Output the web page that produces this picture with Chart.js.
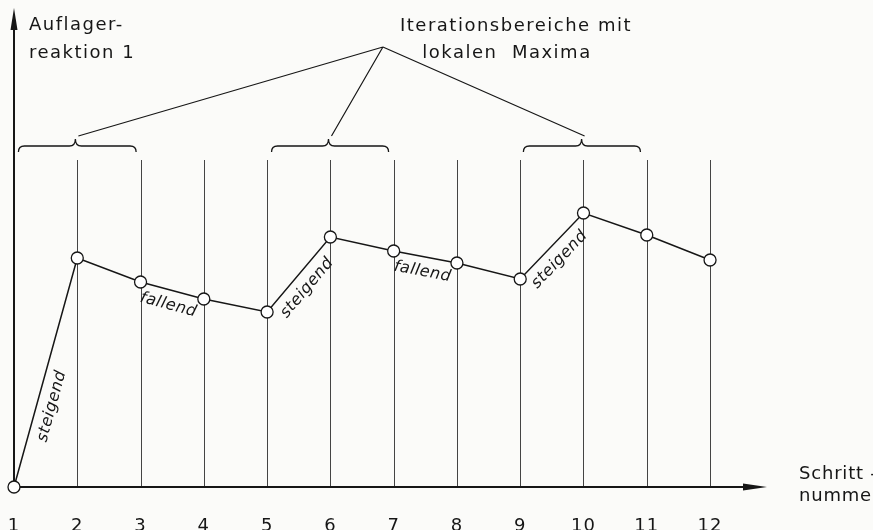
<!DOCTYPE html>
<html>
<head>
<meta charset="utf-8">
<script src="https://cdn.jsdelivr.net/npm/chart.js@4"></script>
<style>
  body { margin: 0; background: #fbfbf9; }
  #wrap { width: 873px; height: 530px; }
</style>
</head>
<body>
<div id="wrap"><canvas id="stepChart" width="873" height="530"></canvas></div>
<script>
    // Schrittnummern und Auflagerreaktion
    var steps = [1, 2, 3, 4, 5, 6, 7, 8, 9, 10, 11, 12];
    var reaction = [0, 229, 205, 188, 175, 250, 236, 224, 208, 274, 252, 227];
    var tickLabels = ['1', '2', '3', '4', '5', '6', '7', '8', '9', '10', '11', '12'];

    // Bereiche mit lokalen Maxima (von Schritt bis Schritt)
    var braceFrom = [1.07, 5.07, 9.05];
    var braceTo = [2.93, 6.92, 10.9];
    var braceTip = [1.97, 5.97, 9.97];

    // Beschriftung der Abschnitte: Segment ab Schritt i
    var segLabels = ['steigend', 'fallend', 'steigend', 'fallend', 'steigend'];
    var segStart = [1, 3, 5, 7, 9];

    var ink = '#161616';
    var font = '18px "DejaVu Sans"';

    var sketchPlugin = {
        id: 'sketch',
        beforeDatasetsDraw: function (chart) {
            var ctx = chart.ctx;
            var xs = chart.scales.x, ys = chart.scales.y;
            var x0 = xs.getPixelForValue(1), y0 = ys.getPixelForValue(0);
            var xEnd = chart.chartArea.right, yTop = chart.chartArea.top;
            ctx.save();

            // senkrechte Hilfslinien
            ctx.strokeStyle = '#444';
            ctx.lineWidth = 1;
            var guideTop = ys.getPixelForValue(327);
            for (var i = 1; i < steps.length; i++) {
                var px = Math.round(xs.getPixelForValue(steps[i])) + 0.5;
                ctx.beginPath();
                ctx.moveTo(px, y0);
                ctx.lineTo(px, guideTop);
                ctx.stroke();
            }

            // Achsen
            ctx.strokeStyle = ink;
            ctx.fillStyle = ink;
            ctx.lineWidth = 2;
            ctx.beginPath();
            ctx.moveTo(x0, y0);
            ctx.lineTo(x0, yTop + 12);
            ctx.moveTo(x0, y0);
            ctx.lineTo(xEnd - 12, y0);
            ctx.stroke();
            ctx.beginPath();
            ctx.moveTo(x0, yTop - 2);
            ctx.lineTo(x0 - 3.5, yTop + 20);
            ctx.lineTo(x0 + 3.5, yTop + 20);
            ctx.closePath();
            ctx.fill();
            ctx.beginPath();
            ctx.moveTo(xEnd, y0);
            ctx.lineTo(xEnd - 24, y0 - 3.5);
            ctx.lineTo(xEnd - 24, y0 + 3.5);
            ctx.closePath();
            ctx.fill();

            // geschweifte Klammern
            ctx.lineWidth = 1.3;
            var by = ys.getPixelForValue(341);
            for (var b = 0; b < braceFrom.length; b++) {
                var l = xs.getPixelForValue(braceFrom[b]);
                var r = xs.getPixelForValue(braceTo[b]);
                var t = xs.getPixelForValue(braceTip[b]);
                ctx.beginPath();
                ctx.moveTo(l, by + 6);
                ctx.quadraticCurveTo(l, by, l + 6, by);
                ctx.lineTo(t - 6, by);
                ctx.quadraticCurveTo(t, by, t, by - 7);
                ctx.quadraticCurveTo(t, by, t + 6, by);
                ctx.lineTo(r - 6, by);
                ctx.quadraticCurveTo(r, by, r, by + 6);
                ctx.stroke();
            }

            // Hinweislinien zum Text
            var ax = xs.getPixelForValue(6.83), ay = ys.getPixelForValue(440);
            ctx.lineWidth = 1.2;
            ctx.beginPath();
            for (var k = 0; k < braceTip.length; k++) {
                ctx.moveTo(ax, ay);
                ctx.lineTo(xs.getPixelForValue(braceTip[k]) + 3, by - 10);
            }
            ctx.stroke();

            // Texte
            ctx.font = font;
            ctx.letterSpacing = '1.5px';
            ctx.textBaseline = 'alphabetic';
            ctx.textAlign = 'left';
            ctx.fillText('Auflager-', x0 + 15, 30);
            ctx.fillText('reaktion 1', x0 + 15, 58);
            ctx.textAlign = 'center';
            ctx.fillText('Iterationsbereiche mit', 516, 31);
            ctx.fillText('lokalen  Maxima', 507, 58);
            ctx.textAlign = 'left';
            ctx.letterSpacing = '0.8px';
            ctx.fillText('Schritt -', xEnd + 32, 479);
            ctx.fillText('nummer', xEnd + 32, 501);

            ctx.textAlign = 'center';
            ctx.letterSpacing = '1px';
            for (var n = 0; n < steps.length; n++) {
                ctx.fillText(tickLabels[n], xs.getPixelForValue(steps[n]), 531);
            }

            // Abschnittsbeschriftungen entlang der Linie
            ctx.font = 'italic 16px "DejaVu Sans"';
            ctx.letterSpacing = '0.5px';
            for (var s = 0; s < segLabels.length; s++) {
                var i0 = steps.indexOf(segStart[s]);
                var p1x = xs.getPixelForValue(steps[i0]), p1y = ys.getPixelForValue(reaction[i0]);
                var p2x = xs.getPixelForValue(steps[i0 + 1]), p2y = ys.getPixelForValue(reaction[i0 + 1]);
                var ang = Math.atan2(p2y - p1y, p2x - p1x);
                var frac = s === 0 ? 0.37 : (segLabels[s] === 'fallend' ? 0.5 : 0.45);
                var mx = p1x + (p2x - p1x) * frac, my = p1y + (p2y - p1y) * frac;
                ctx.save();
                ctx.translate(mx, my);
                ctx.rotate(ang);
                ctx.textBaseline = 'top';
                ctx.fillText(segLabels[s], 0, 7);
                ctx.restore();
            }
            ctx.restore();
        }
    };

    var ctx = document.getElementById('stepChart').getContext('2d');
    var myChart = new Chart(ctx, {
        type: 'line',
        data: {
            datasets: [{
                data: steps.map(function (s, i) { return { x: s, y: reaction[i] }; }),
                borderColor: ink,
                borderWidth: 1.5,
                pointRadius: 6,
                pointBorderWidth: 1.3,
                pointBackgroundColor: '#ffffff',
                pointBorderColor: ink,
                tension: 0,
                clip: false
            }]
        },
        options: {
            responsive: false,
            animation: false,
            layout: { padding: { left: 14, right: 106, top: 10, bottom: 43 } },
            plugins: { legend: { display: false }, tooltip: { enabled: false } },
            scales: {
                x: { type: 'linear', min: 1, max: 12.9, display: false },
                y: { min: 0, max: 477, display: false }
            }
        },
        plugins: [sketchPlugin]
    });
</script>
</body>
</html>
